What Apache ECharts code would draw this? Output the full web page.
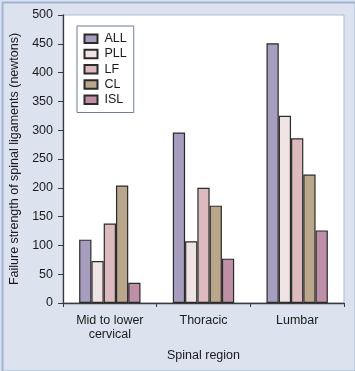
<!DOCTYPE html>
<html><head><meta charset="utf-8">
<script src="https://cdn.jsdelivr.net/npm/echarts@6/dist/echarts.min.js"></script>
<style>html,body{margin:0;padding:0;background:#dde3ee;}#c{width:355px;height:371px;}</style>
</head><body><div id="c"></div>
<script>
const categories = ['Mid to lower\ncervical', 'Thoracic', 'Lumbar'];
const ALL = [110, 296, 451];
const PLL = [73, 107, 325];
const LF = [138, 200, 286];
const CL = [204, 169, 223];
const ISL = [35, 77, 126];
const seriesNames = ['ALL', 'PLL', 'LF', 'CL', 'ISL'];
const seriesData = [ALL, PLL, LF, CL, ISL];
const colors = ['#a69dbf', '#efe3e4', '#dcbabd', '#baa68b', '#be8fa7'];
const yTicks = [0, 50, 100, 150, 200, 250, 300, 350, 400, 450, 500];

const chart = echarts.init(document.getElementById('c'), null, {renderer: 'canvas'});
const font = 'Liberation Sans, Arial, Helvetica, sans-serif';
const fs = 12.5;
chart.setOption({
  backgroundColor: '#dde3ee',
  animation: false,
  textStyle: {fontFamily: font},
  graphic: [{
    type: 'rect', left: 0, top: 0, z: 100, silent: true,
    shape: {x: 1, y: 1, width: 353, height: 369},
    style: {fill: 'none', stroke: '#9fb3d4', lineWidth: 2}
  }],
  legend: {
    orient: 'vertical', left: 77, top: 26,
    data: seriesNames,
    itemWidth: 13, itemHeight: 8.5, itemGap: 0,
    icon: 'rect',
    padding: [5, 7, 5, 6.5],
    backgroundColor: '#ffffff',
    borderColor: '#6f7b98', borderWidth: 1,
    textStyle: {fontSize: fs, color: '#1a1a1a', fontFamily: font, lineHeight: 15.3, padding: [0, 0, 0, 2]}
  },
  grid: {left: 63, right: 11, top: 15, bottom: 68, show: true, backgroundColor: '#ffffff', borderColor: '#a9bbd9', borderWidth: 1},
  xAxis: {
    type: 'category', data: categories,
    axisLine: {lineStyle: {color: '#3a3a3a', width: 1.3}},
    axisTick: {show: true, length: 4, lineStyle: {color: '#3a3a3a'}},
    axisLabel: {fontSize: fs, color: '#1a1a1a', margin: 11, lineHeight: 13.5, fontFamily: font},
    name: 'Spinal region', nameLocation: 'middle', nameGap: 46,
    nameTextStyle: {fontSize: fs, color: '#1a1a1a', fontFamily: font}
  },
  yAxis: {
    type: 'value', min: 0, max: 500, interval: 50,
    axisLine: {show: true, lineStyle: {color: '#3a3a3a', width: 1.3}},
    axisTick: {show: true, length: 5, lineStyle: {color: '#3a3a3a'}},
    splitLine: {show: false},
    axisLabel: {fontSize: fs, color: '#1a1a1a', margin: 10, fontFamily: font,
      formatter: v => yTicks.includes(v) ? String(v) : ''},
    name: 'Failure strength of spinal ligaments (newtons)', nameLocation: 'middle', nameGap: 35,
    nameTextStyle: {fontSize: fs, color: '#1a1a1a', fontFamily: font}
  },
  series: seriesNames.map((n, i) => ({
    name: n, type: 'bar', data: seriesData[i],
    barGap: '0%', barCategoryGap: '34.5%',
    itemStyle: {color: colors[i], borderColor: '#2b2b2b', borderWidth: 1.2}
  }))
});
</script></body></html>
